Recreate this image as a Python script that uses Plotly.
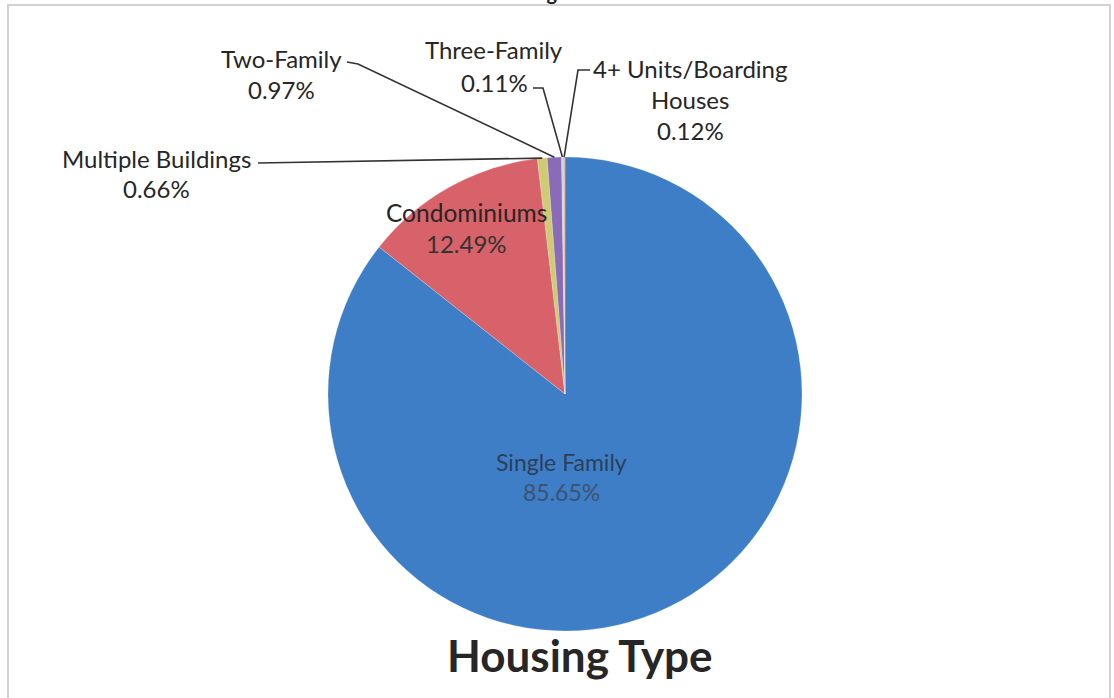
import math
import plotly.graph_objects as go

# ---------------- data ----------------
categories = ["Single Family", "Condominiums", "Multiple Buildings",
              "Two-Family", "Three-Family", "4+ Units/Boarding Houses"]
shares = [85.65, 12.49, 0.66, 0.97, 0.11, 0.12]
colors = ["#3D7EC6", "#D8626A", "#CFCB73", "#8A6BB8", "#B9D3E8", "#E9B48A"]
title_text = "Housing Type"

W, H = 1114, 698
CX, CY, R = 565, 394, 237  # pie centre / radius in pixels

fig = go.Figure(go.Pie(
    labels=categories, values=shares, sort=False, direction="clockwise",
    rotation=0, textinfo="none", hoverinfo="skip",
    marker=dict(colors=colors, line=dict(color="rgba(255,255,255,0.35)", width=0.6)),
    domain=dict(x=[(CX - R) / W, (CX + R) / W], y=[1 - (CY + R) / H, 1 - (CY - R) / H]),
    showlegend=False,
))

FONT = "Lato"
DARK = "#262626"


def px(x):
    return x / W


def py(y):
    return 1 - y / H


annotations = []
shapes = []


def add_text(txt, x, y, size=24, color=DARK, bold=False):
    annotations.append(dict(
        text=f"<b>{txt}</b>" if bold else txt, x=px(x), y=py(y), xref="paper", yref="paper",
        xanchor="center", yanchor="middle", showarrow=False,
        font=dict(family=FONT, size=size, color=color)))


def pct(i):
    return f"{shares[i]:.2f}%"


def tip(i):
    total = sum(shares)
    before = sum(shares[:i])
    mid = (before + shares[i] / 2) / total * 2 * math.pi
    return CX + R * math.sin(mid), CY - R * math.cos(mid)


def leader(points):
    d = "M " + " L ".join(f"{px(x)},{py(y)}" for x, y in points)
    shapes.append(dict(type="path", path=d, xref="paper", yref="paper",
                       line=dict(color="#333333", width=1.6)))


# inside labels
add_text(categories[1], 466, 212, size=24.5, color="#262626")
add_text(pct(1), 466, 243, size=24, color="#333333")
add_text(categories[0], 561, 462, size=23, color="#2d3f58")
add_text(pct(0), 561, 492, size=23, color="#3c5272")

# outside labels
add_text(categories[2], 156, 158)
add_text(pct(2), 156, 188)
add_text(categories[3], 281, 58)
add_text(pct(3), 281, 90)
add_text(categories[4], 494, 50)
add_text(pct(4), 494, 83)
add_text("4+ Units/Boarding", 690, 68)
add_text("Houses", 690, 100)
add_text(pct(5), 690, 131)

# leader lines
leader([(258, 163), tip(2)])
leader([(347, 62), (358, 64), tip(3)])
leader([(533, 88), (543, 88), tip(4)])
leader([(590, 70), (578, 70), tip(5)])

# title
add_text(title_text, 580, 655, size=44, color="#262626", bold=True)
# clipped "Figure 1" heading at top edge (only its lower part is visible)
add_text("Figure 1", 566, -8, size=20, color="#222222", bold=True)

# chart border
shapes.append(dict(type="rect", xref="paper", yref="paper",
                   x0=px(8), x1=px(1110), y0=py(700), y1=py(5),
                   line=dict(color="#d2d2d2", width=2)))

fig.update_layout(
    width=W, height=H, autosize=False,
    margin=dict(l=0, r=0, t=0, b=0),
    paper_bgcolor="white", plot_bgcolor="white",
    annotations=annotations, shapes=shapes,
)

fig.write_html("out.html")
